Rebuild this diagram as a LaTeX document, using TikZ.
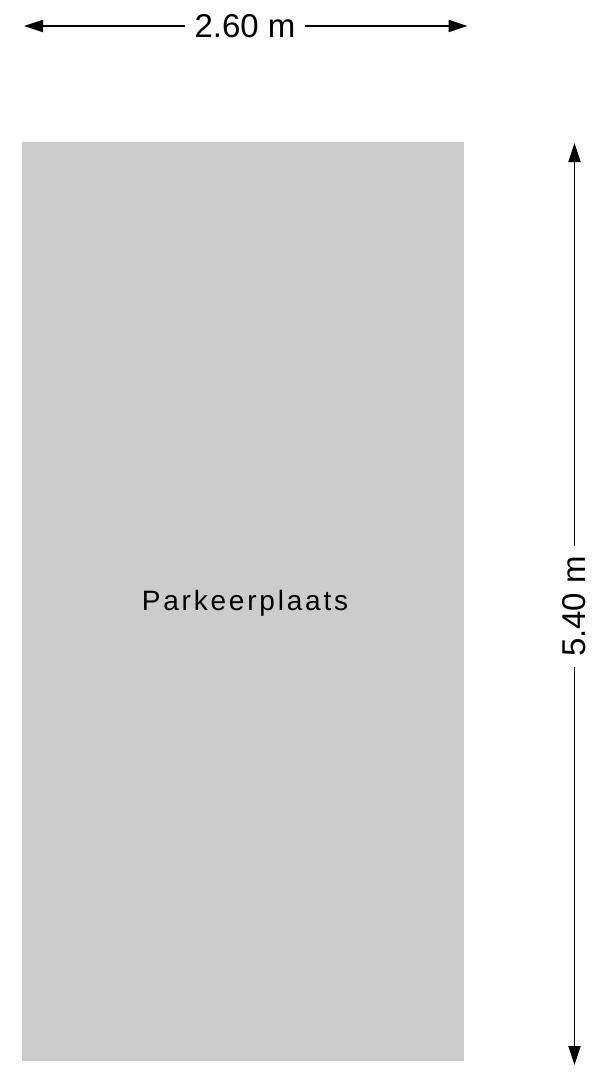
\documentclass[tikz,border=0pt]{standalone}
\usepackage{fontspec}
\setmainfont{Liberation Sans}
\newfontfamily\spacedfont[LetterSpace=10]{Liberation Sans}
\usetikzlibrary{arrows.meta}
\definecolor{parkgray}{HTML}{CCCCCC}
\tikzset{
  dimline/.style={line width=1.8pt, -{Triangle[length=19pt,width=12pt]}},
  dimlabel/.style={font=\fontsize{33pt}{36pt}\selectfont, inner sep=0pt, text=black},
  roomlabel/.style={font=\spacedfont\fontsize{28pt}{31pt}\selectfont, inner sep=0pt, text=black},
}
\begin{document}
\begin{tikzpicture}[x=1pt,y=-1pt]
\useasboundingbox (0,0) rectangle (608,1080);
% parking area
\fill[parkgray] (22,142) rectangle (464,1061);
\node[roomlabel, anchor=base] (room) at (245,610) {Parkeerplaats};
% width dimension
\coordinate (wl) at (24,26);
\coordinate (wr) at (467.5,26);
\node[dimlabel, minimum width=120pt, minimum height=30pt] (wlab) at (245,26) {2.60 m};
\draw[dimline] (wlab.west) -- (wl);
\draw[dimline] (wlab.east) -- (wr);
% height dimension
\coordinate (ht) at (574.5,143);
\coordinate (hb) at (574.5,1065);
\node[dimlabel, rotate=90, minimum width=121pt, minimum height=30pt] (hlab) at (574.5,606.5) {5.40 m};
\draw[dimline] (hlab.east) -- (ht);
\draw[dimline] (hlab.west) -- (hb);
\end{tikzpicture}
\end{document}
